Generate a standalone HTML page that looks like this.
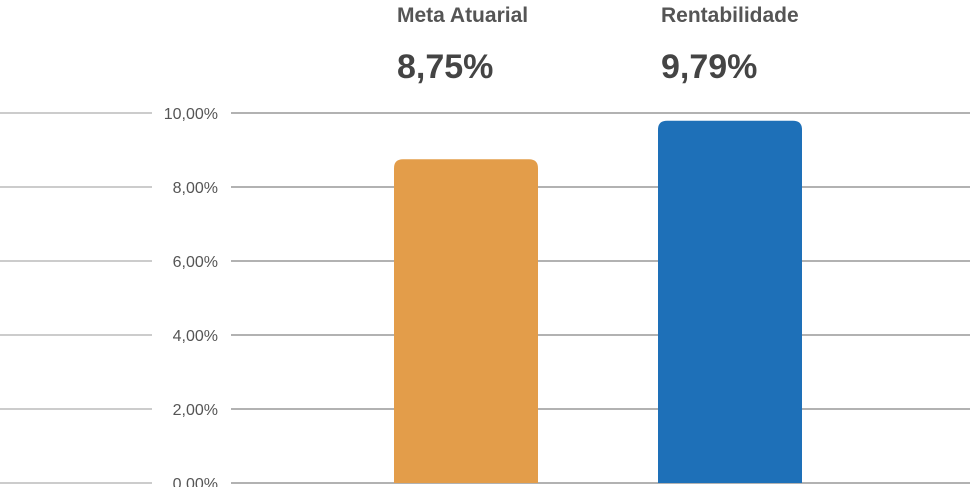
<!DOCTYPE html>
<html><head><meta charset="utf-8"><style>
body{margin:0;background:#fff;width:970px;height:487px;overflow:hidden;font-family:"Liberation Sans",sans-serif}
</style></head><body>
<svg id="chart" width="970" height="487" xmlns="http://www.w3.org/2000/svg"></svg>
<script>
const categories=["Meta Atuarial","Rentabilidade"];
const values=[8.75,9.79];
const valueLabels=["8,75%","9,79%"];
const ticks=[0,2,4,6,8,10];
const tickLabels=["0,00%","2,00%","4,00%","6,00%","8,00%","10,00%"];
const colors=["#E39D4A","#1E70B8"];
const svg=document.getElementById('chart');
const NS='http://www.w3.org/2000/svg';
const y=v=>483-v*37;
const xs=[394,658], bw=144;
function mk(t,a,txt){const e=document.createElementNS(NS,t);for(const k in a)e.setAttribute(k,a[k]);if(txt!==undefined)e.textContent=txt;svg.appendChild(e);return e;}
ticks.forEach((t,i)=>{
  const yy=y(t);
  let e=mk('line',{x1:0,x2:152,y1:yy,y2:yy,stroke:'#999','stroke-width':1});
  
  
  e=mk('line',{x1:231,x2:970,y1:yy,y2:yy,stroke:'#666','stroke-width':1});
  
  
  e=mk('text',{x:218,y:yy+6,'text-anchor':'end','font-size':16,fill:'#555'},tickLabels[i]);
  
  
});
values.forEach((v,i)=>{
  const x0=xs[i],top=y(v),bot=483,r=9;
  let e=mk('path',{d:`M${x0},${bot}V${top+r}Q${x0},${top} ${x0+r},${top}H${x0+bw-r}Q${x0+bw},${top} ${x0+bw},${top+r}V${bot}Z`,fill:colors[i]});
  
  
  e=mk('text',{x:x0+3,y:22,'font-size':21,'font-weight':'bold',fill:'#555'},categories[i]);
  
  
  e=mk('text',{x:x0+3,y:78,'font-size':34,'font-weight':'bold',fill:'#444'},valueLabels[i]);
  
  
});
</script>
</body></html>
